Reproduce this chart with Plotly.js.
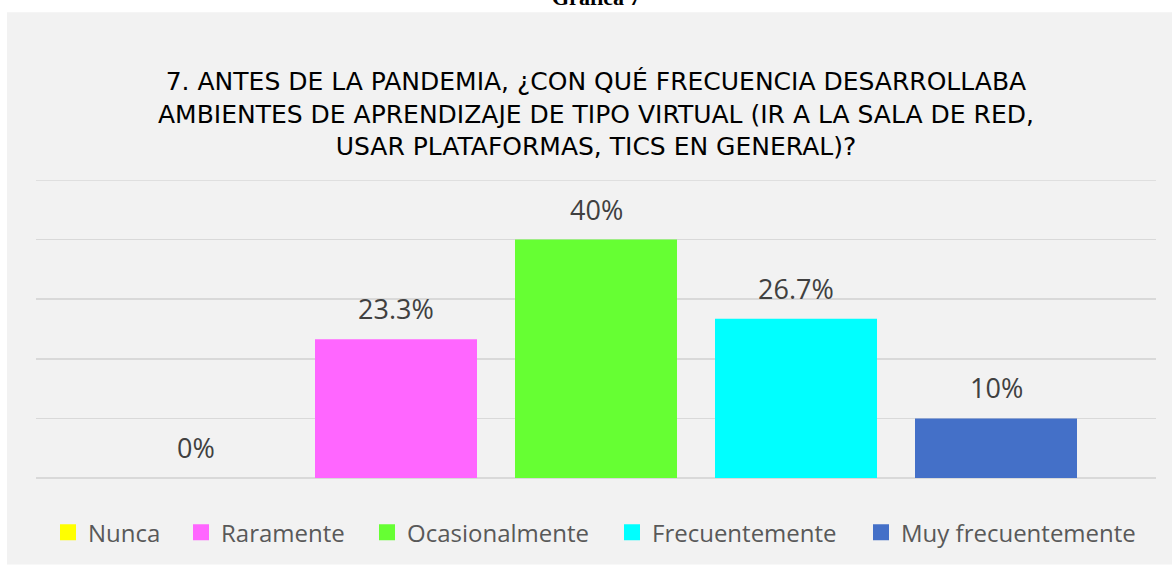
<!DOCTYPE html>
<html>
<head>
<meta charset="utf-8">
<script src="https://cdn.plot.ly/plotly-3.0.1.min.js"></script>
<style>html,body{margin:0;padding:0;background:#fff;}#chart{width:1172px;height:567px;}</style>
</head>
<body>
<div id="chart"></div>
<script>
const categories = ["Nunca", "Raramente", "Ocasionalmente", "Frecuentemente", "Muy frecuentemente"];
const values = [0, 0.233, 0.40, 0.267, 0.10];
const valueLabels = ["0%", "23.3%", "40%", "26.7%", "10%"];
const colors = ["#ffff00", "#ff66ff", "#66ff33", "#00ffff", "#4470c8"];
const titleText = "7. ANTES DE LA PANDEMIA, ¿CON QUÉ FRECUENCIA DESARROLLABA<br>AMBIENTES DE APRENDIZAJE DE TIPO VIRTUAL (IR A LA SALA DE RED,<br>USAR PLATAFORMAS, TICS EN GENERAL)?";
const captionText = "Gráfica 7";

const W = 1172, H = 567;
const L = 36, R = 16, T = 180, B = 87;
const pw = W - L - R, ph = H - T - B;
const px2x = p => (p - L) / pw;
const py2y = p => (H - B - p) / ph;

// legend swatch centre positions (pixels) for the five separate legends
const legendSwatchPx = [68, 201, 387, 632, 881];
const legendNames = ["legend", "legend2", "legend3", "legend4", "legend5"];

const barTraces = categories.map((c, i) => ({
  type: "bar",
  name: c,
  x: [c],
  y: [values[i]],
  width: 0.81,
  showlegend: false,
  marker: {color: colors[i], line: {width: 0}},
  hoverinfo: "skip"
}));
// legend entries (square swatches), no visible points
const legendTraces = categories.map((c, i) => ({
  type: "scatter",
  mode: "markers",
  name: c,
  x: [c],
  y: [null],
  legend: legendNames[i],
  marker: {symbol: "square", size: 16, color: colors[i]},
  hoverinfo: "skip"
}));

const annotations = categories.map((c, i) => ({
  x: c, y: values[i], xref: "x", yref: "y",
  text: valueLabels[i], showarrow: false,
  yanchor: "bottom", yshift: 10,
  font: {family: "'Open Sans', sans-serif", size: 27, color: "#404040"}
}));
annotations.push({
  xref: "paper", yref: "paper", x: px2x(596), y: py2y(11),
  xanchor: "center", yanchor: "bottom", showarrow: false,
  text: "<b>" + captionText + "</b>",
  font: {family: "'Liberation Serif', serif", size: 22, color: "#000"}
});
annotations.push({
  xref: "paper", yref: "paper", x: px2x(596), y: py2y(114),
  xanchor: "center", yanchor: "middle", showarrow: false,
  text: titleText,
  font: {family: "'DejaVu Sans', sans-serif", size: 25, color: "#000"}
});

const layout = {
  width: W, height: H,
  margin: {l: L, r: R, t: T, b: B, pad: 0},
  paper_bgcolor: "#ffffff",
  plot_bgcolor: "#f2f2f2",
  barmode: "overlay",
  showlegend: true,
  xaxis: {
    type: "category", categoryorder: "array", categoryarray: categories,
    range: [-0.8, 4.8], showticklabels: false, showgrid: false, zeroline: false,
    showline: false, ticks: "", fixedrange: true
  },
  yaxis: {
    range: [0, 0.5], dtick: 0.1, tick0: 0, showticklabels: false,
    showgrid: true, gridcolor: "#d9d9d9", gridwidth: 1.5,
    zeroline: true, zerolinecolor: "#d9d9d9", zerolinewidth: 1.5,
    showline: false, ticks: "", fixedrange: true
  },
  shapes: [{
    type: "rect", xref: "paper", yref: "paper", layer: "below",
    x0: px2x(7), x1: px2x(1172), y0: py2y(567), y1: py2y(11),
    fillcolor: "#f2f2f2", line: {width: 0}
  }, {
    type: "line", xref: "paper", yref: "y", layer: "below",
    x0: 0, x1: 1, y0: 0.5, y1: 0.5,
    line: {color: "#d9d9d9", width: 1.5}
  }],
  annotations: annotations
};

legendNames.forEach((ln, i) => {
  layout[ln] = {
    orientation: "h", x: px2x(legendSwatchPx[i] - 20), xanchor: "left",
    y: py2y(535), yanchor: "middle",
    font: {family: "'Open Sans', sans-serif", size: 24, color: "#595959"},
    bgcolor: "rgba(0,0,0,0)", borderwidth: 0, itemsizing: "trace"
  };
});

Plotly.newPlot("chart", barTraces.concat(legendTraces), layout, {displayModeBar: false, staticPlot: true});
</script>
</body>
</html>
